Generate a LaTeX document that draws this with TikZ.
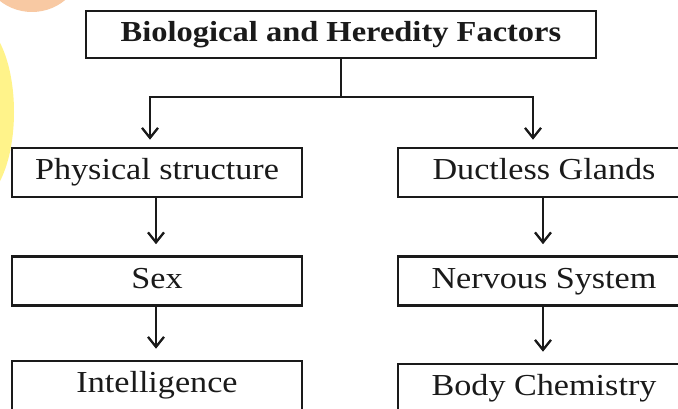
\documentclass[tikz,border=0pt]{standalone}
\usepackage{fontspec}
\setmainfont{Liberation Serif}[FakeStretch=1.12]
\usetikzlibrary{arrows.meta}
\definecolor{peach}{HTML}{F8C9A3}
\definecolor{lemon}{HTML}{FFF38A}
\definecolor{ink}{HTML}{1A1A1A}
\tikzset{
  box/.style={draw=ink, line width=2.6pt, rectangle, minimum height=49pt,
    text height=21pt, text depth=6pt, inner sep=0pt, text=ink, font=\fontsize{30.5}{33}\selectfont},
  titlebox/.style={box, minimum width=510pt, minimum height=47pt, font=\fontsize{29}{32}\selectfont\bfseries},
  lbox/.style={box, minimum width=290pt},
  rbox/.style={box, minimum width=292pt},
  conn/.style={line width=2.5pt, ink},
  arr/.style={conn, -{Straight Barb[length=10pt,width=16pt,line width=2.3pt]}}
}
\begin{document}
\begin{tikzpicture}[x=1pt,y=1pt]
\useasboundingbox (0,0) rectangle (678,409);
\clip (0,0) rectangle (678,409);
\fill[white] (0,0) rectangle (678,409);
% decorative blobs
\fill[peach] (32,449) circle[radius=52];
\fill[lemon] (-25,297) ellipse[x radius=39, y radius=90];
% nodes
\node[titlebox] (title) at (341,374.5) {Biological and Heredity Factors};
\node[lbox] (phys) at (157,236.5) {Physical structure};
\node[lbox] (sex) at (157,128) {Sex};
\node[lbox] (intel) at (157,23.5) {Intelligence};
\node[rbox] (duct) at (544,236.5) {Ductless Glands};
\node[rbox] (nerv) at (544,128) {Nervous System};
\node[rbox] (body) at (544,20.5) {Body Chemistry};
% branch
\coordinate (jl) at (150,312);
\coordinate (jr) at (533,312);
\draw[conn] (title.south) -- (title.south |- jl);
\draw[conn] ([xshift=-1.2pt]jl) -- ([xshift=1.2pt]jr);
\draw[arr, shorten >=7pt] (jl) -- (jl |- phys.north);
\draw[arr, shorten >=7pt] (jr) -- (jr |- duct.north);
% chains
\draw[arr, shorten >=11pt] ([xshift=-1pt]phys.south) -- ([xshift=-1pt]sex.north);
\draw[arr, shorten >=11pt] ([xshift=-1pt]sex.south) -- ([xshift=-1pt]intel.north);
\draw[arr, shorten >=11pt] ([xshift=-1pt]duct.south) -- ([xshift=-1pt]nerv.north);
\draw[arr, shorten >=11pt] ([xshift=-1pt]nerv.south) -- ([xshift=-1pt]body.north);
\end{tikzpicture}
\end{document}
